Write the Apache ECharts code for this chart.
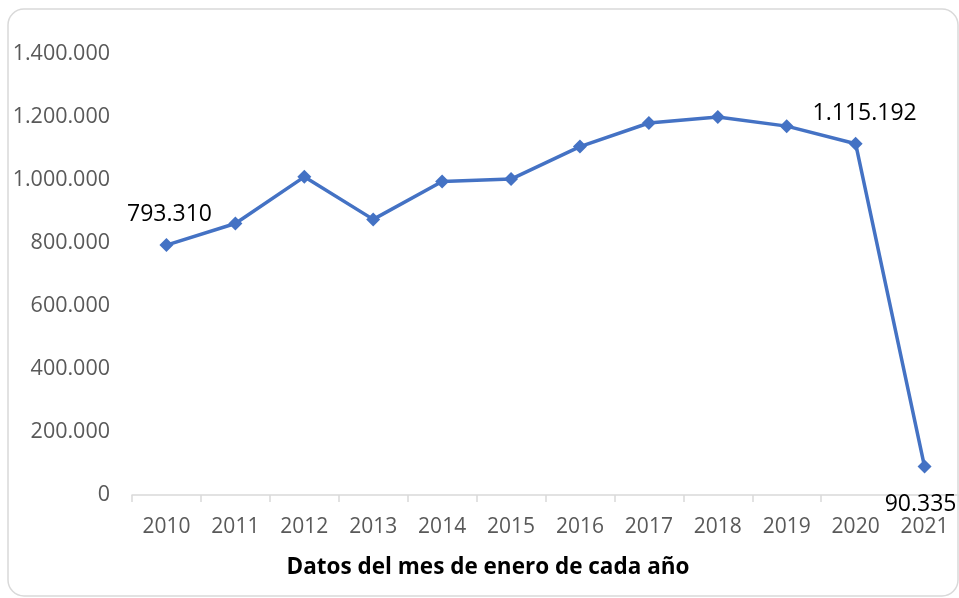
<!DOCTYPE html>
<html>
<head>
<meta charset="utf-8">
<script src="https://cdn.jsdelivr.net/npm/echarts@6/dist/echarts.min.js"></script>
<style>
  html, body { margin: 0; padding: 0; background: #fff; }
  #chart { width: 959px; height: 598px; }
</style>
</head>
<body>
<div id="chart"></div>
<script>
// datos
const years = ['2010', '2011', '2012', '2013', '2014', '2015', '2016', '2017', '2018', '2019', '2020', '2021']
const values = [793310, 862000, 1010000, 875000, 995000, 1003000, 1106000, 1181000, 1200000, 1171000, 1115192, 90335]
const yTicks = [0, 200000, 400000, 600000, 800000, 1000000, 1200000, 1400000]
const xTitle = 'Datos del mes de enero de cada año'

const font = '"Open Sans", sans-serif'

// separador de miles con punto
function fmt(v) {
  return String(v).replace(/\B(?=(\d{3})+(?!\d))/g, '.')
}

// solo algunos puntos llevan etiqueta
const labelled = {
  0: { position: 'top', distance: 12, offset: [3, 0] },
  10: { position: 'top', distance: 12, offset: [9, 0] },
  11: { position: 'bottom', distance: 19, offset: [-4, 0] }
}

const seriesData = values.map((v, i) => {
  const lab = labelled[i]
  if (!lab) return v
  return {
    value: v,
    label: Object.assign({
      show: true,
      formatter: p => fmt(p.value),
      color: '#000',
      fontSize: 23,
      fontFamily: font
    }, lab)
  }
})

const chart = echarts.init(document.getElementById('chart'))
chart.setOption({
  animation: false,
  backgroundColor: '#fff',
  graphic: [{
    type: 'rect',
    shape: { x: 8, y: 9, width: 950, height: 587, r: 16 },
    style: { fill: 'none', stroke: '#d9d9d9', lineWidth: 1.5 },
    z: -1
  }],
  title: {
    text: xTitle,
    left: 483,
    top: 551,
    textAlign: 'center',
    textStyle: { fontFamily: font, fontWeight: 'bold', fontSize: 22.5, color: '#000' }
  },
  grid: { left: 132, top: 54, width: 836, height: 441 },
  xAxis: {
    type: 'category',
    data: years,
    boundaryGap: true,
    axisLine: { lineStyle: { color: '#d9d9d9', width: 1.5 } },
    axisTick: { show: true, length: 7, lineStyle: { color: '#d9d9d9', width: 1.5 } },
    axisLabel: { color: '#595959', fontSize: 21, fontFamily: font, margin: 22 }
  },
  yAxis: {
    type: 'value',
    min: yTicks[0],
    max: yTicks[yTicks.length - 1],
    interval: yTicks[1] - yTicks[0],
    splitLine: { show: false },
    axisLine: { show: false },
    axisTick: { show: false },
    axisLabel: { color: '#595959', fontSize: 21.5, fontFamily: font, margin: 22, formatter: fmt }
  },
  series: [{
    type: 'line',
    data: seriesData,
    symbol: 'diamond',
    symbolSize: 14,
    lineStyle: { color: '#4472C4', width: 3.5 },
    itemStyle: { color: '#4472C4' },
    clip: false
  }]
})
</script>
</body>
</html>
